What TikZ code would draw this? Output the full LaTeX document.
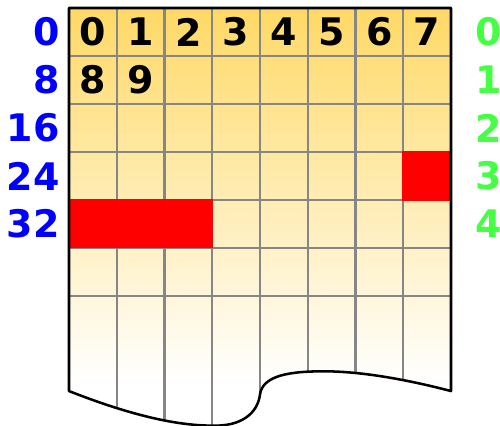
\documentclass[tikz,border=0pt]{standalone}
\usepackage{fontspec}
\setmainfont{DejaVu Sans}
\usepackage{tikz}
\usetikzlibrary{positioning}
\definecolor{paper}{HTML}{FFD966}
\definecolor{gridline}{HTML}{868686}
\definecolor{hit}{HTML}{FF0000}
\definecolor{offblue}{HTML}{0000FF}
\definecolor{rowgreen}{HTML}{44FF44}
\tikzset{
  digit/.style={font=\bfseries\fontsize{22.5}{27}\selectfont, inner sep=0pt},
  offset/.style={digit, text=offblue, anchor=east},
  rowno/.style={digit, text=rowgreen, anchor=west},
  gridln/.style={draw=gridline, line width=1.35pt},
  outline/.style={draw=black, line width=1.5pt, line join=round}
}
% page outline with torn bottom edge
\def\tornpage{(0,0) -- (8,0) -- (8,-7.98)
  .. controls (7,-7.72) and (6,-7.55) .. (5.2,-7.57)
  .. controls (4.5,-7.58) and (4.05,-7.7) .. (4,-8.05)
  .. controls (3.95,-8.45) and (3.6,-8.72) .. (3,-8.7)
  .. controls (2.2,-8.7) and (1.2,-8.45) .. (0,-7.98) -- cycle}

\begin{document}
\begin{tikzpicture}[x=0.9948cm, y=1cm]
  \useasboundingbox (-1.445,0.1667) rectangle (9.026,-8.708);
  \begin{scope}
    \clip \tornpage;
    \fill[white] (0,0) rectangle (8,-9);
    \shade[top color=paper, bottom color=white] (0,0) rectangle (8,-7.8);
    \foreach \i in {1,...,7} {
      \draw[gridln] (\i,0) -- (\i,-9);
    }
    \foreach \j in {1,...,6} {
      \draw[gridln] (0,-\j) -- (8,-\j);
    }
  \end{scope}
  \fill[hit] (6.98,-2.98) rectangle (8,-4.02);
  \fill[hit] (0,-3.98) rectangle (3.02,-5);
  \draw[outline] \tornpage;
  \foreach \i in {0,...,7} {
    \node[digit] (top\i) at (\i+0.5,-0.5) {\i};
  }
  \node[digit] (top8) at (0.5,-1.5) {8};
  \node[digit] (top9) at (1.5,-1.5) {9};
  \foreach \r [evaluate=\r as \o using int(8*\r)] in {0,...,4} {
    \node[offset] (off\r) at (-0.19,-\r-0.5) {\o};
    \node[rowno] (row\r) at (8.5,-\r-0.5) {\r};
  }
\end{tikzpicture}
\end{document}
